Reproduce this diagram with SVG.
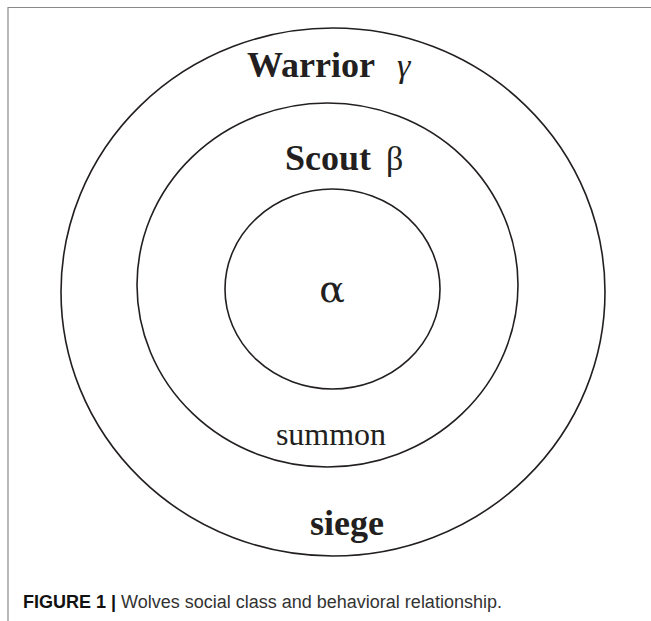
<svg xmlns="http://www.w3.org/2000/svg" width="651" height="621" viewBox="0 0 651 621">
<style>
.ring{fill:none;stroke:#231f20;stroke-width:1.6}
.lbl{font-family:"Liberation Serif","Times New Roman",serif;fill:#231f20}
.b{font-weight:bold}
.frame{fill:none;stroke:#8a8a8a;stroke-width:1.2}
.cap{font-family:"Liberation Sans",Arial,sans-serif;font-size:18px;fill:#333}
</style>
<rect width="651" height="621" fill="#fff"/>
<path class="frame" d="M8 621 V7.5 H651"/>
<g id="warrior">
<ellipse class="ring" cx="333" cy="292" rx="272" ry="264"/>
<text class="lbl b" x="247" y="77" font-size="36">Warrior</text>
<text class="lbl" x="397" y="77" font-size="34" font-style="italic">γ</text>
<text class="lbl b" x="347" y="535" font-size="36" text-anchor="middle">siege</text>
</g>
<g id="scout">
<ellipse class="ring" cx="327.5" cy="285" rx="190.5" ry="182"/>
<text class="lbl b" x="285" y="170" font-size="36">Scout</text>
<text class="lbl" x="386" y="170" font-size="34">β</text>
<text class="lbl" x="331" y="445" font-size="32" text-anchor="middle">summon</text>
</g>
<g id="alpha">
<ellipse class="ring" cx="332.5" cy="289" rx="107.5" ry="100"/>
<text x="332" y="302" font-size="38" text-anchor="middle" font-family="'DejaVu Serif',serif" fill="#231f20">α</text>
</g>
<g id="connectors"></g>
<text class="cap" x="23" y="608"><tspan font-weight="bold" fill="#111">FIGURE 1 | </tspan>Wolves social class and behavioral relationship.</text>
</svg>
